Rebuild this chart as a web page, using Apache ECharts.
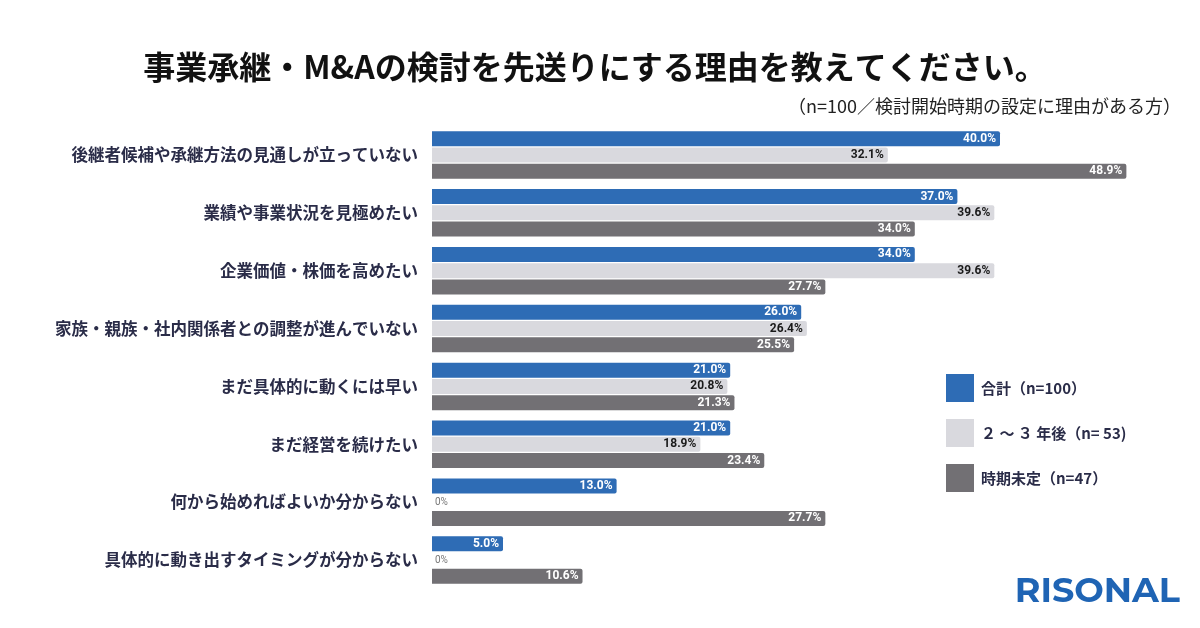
<!DOCTYPE html>
<html>
<head>
<meta charset="utf-8">
<script src="https://cdn.jsdelivr.net/npm/echarts@6/dist/echarts.min.js"></script>
<style>
  html, body { margin: 0; padding: 0; background: #fff; }
  #chart { width: 1200px; height: 628px; }
</style>
</head>
<body>
<div id="chart"></div>
<script>
var categories = [
    '後継者候補や承継方法の見通しが立っていない',
    '業績や事業状況を見極めたい',
    '企業価値・株価を高めたい',
    '家族・親族・社内関係者との調整が進んでいない',
    'まだ具体的に動くには早い',
    'まだ経営を続けたい',
    '何から始めればよいか分からない',
    '具体的に動き出すタイミングが分からない'
];
var seriesNames = ['合計（n=100）', '２ ～ ３ 年後（n= 53)', '時期未定（n=47）'];
var totalVals = [40.0, 37.0, 34.0, 26.0, 21.0, 21.0, 13.0, 5.0];
var soonVals = [32.1, 39.6, 39.6, 26.4, 20.8, 18.9, 0, 0];
var undecidedVals = [48.9, 34.0, 27.7, 25.5, 21.3, 23.4, 27.7, 10.6];

var colors = ['#2e6cb5', '#d9d9de', '#727074'];
var labelColors = ['#ffffff', '#1a1a1a', '#ffffff'];
var font = '"Noto Sans CJK JP", "Noto Sans", sans-serif';

function buildData(vals){
    return vals.map(function(v){
        if (v === 0) {
            // empty bar: small grey label just right of zero
            return {
                value: v,
                label: {position: 'right', distance: 3, color: '#777', fontWeight: 'normal', fontSize: 10}
            };
        }
        return v;
    });
}

function makeSeries(vals, idx){
    return {
        name: seriesNames[idx],
        type: 'bar',
        barWidth: 15,
        barGap: '8%',
        barCategoryGap: '10px',
        itemStyle: {color: colors[idx], borderRadius: [0, 2, 2, 0]},
        label: {
            show: true,
            position: 'insideRight',
            distance: 4,
            color: labelColors[idx],
            fontFamily: 'Roboto, sans-serif',
            fontSize: 12,
            fontWeight: 'bold',
            formatter: function(p){
                return p.value === 0 ? '0%' : p.value.toFixed(1) + '%';
            }
        },
        data: buildData(vals)
    };
}

var myChart = echarts.init(document.getElementById('chart'));
myChart.setOption({
    backgroundColor: '#ffffff',
    textStyle: {fontFamily: font},
    title: [{
        text: '事業承継・M&Aの検討を先送りにする理由を教えてください。',
        left: 590,
        textAlign: 'center',
        top: 46,
        textStyle: {fontSize: 32, fontWeight: 'bold', color: '#111111', fontFamily: font}
    }, {
        text: '（n=100／検討開始時期の設定に理由がある方）',
        right: 14,
        top: 92,
        textStyle: {fontSize: 18, fontWeight: 'normal', color: '#222222', fontFamily: font}
    }],
    legend: {
        orient: 'vertical',
        left: 941,
        top: 369,
        itemWidth: 28,
        itemHeight: 28,
        itemGap: 17,
        icon: 'rect',
        textStyle: {fontSize: 15, fontWeight: 'bold', color: '#2a2c48', fontFamily: font, padding: [0, 0, 0, 2]},
        data: seriesNames
    },
    grid: {left: 432, width: 710, top: 126, bottom: 39, containLabel: false},
    xAxis: {
        type: 'value',
        min: 0,
        max: 50,
        show: false
    },
    yAxis: {
        type: 'category',
        inverse: true,
        data: categories,
        axisLine: {show: false},
        axisTick: {show: false},
        axisLabel: {
            margin: 14,
            fontSize: 16.5,
            fontWeight: 'bold',
            color: '#2a2c48',
            fontFamily: font
        }
    },
    graphic: [{
        type: 'text',
        right: 20,
        top: 574,
        style: {
            text: 'RISONAL',
            fill: '#1f64b4',
            font: 'bold 35px Montserrat, "Open Sans", Lato, sans-serif'
        }
    }],
    series: [
        makeSeries(totalVals, 0),
        makeSeries(soonVals, 1),
        makeSeries(undecidedVals, 2)
    ]
});
</script>
</body>
</html>
